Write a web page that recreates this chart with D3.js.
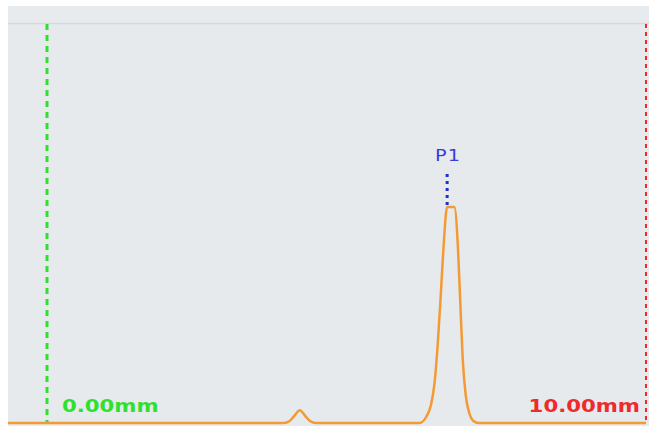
<!DOCTYPE html>
<html>
<head>
<meta charset="utf-8">
<script src="https://cdn.jsdelivr.net/npm/d3@7"></script>
<style>
  body { margin: 0; background: #fff; }
  svg { display: block; }
</style>
</head>
<body>
<div id="wrapper"></div>
<script>
// trace position (mm) and signal
const positions = [-0.65, 3.95, 4.05, 4.13, 4.22, 4.31, 4.39, 4.49, 6.22, 6.33, 6.41, 6.47, 6.52, 6.57, 6.62, 6.68, 6.8, 6.86, 6.9, 6.94, 6.99, 7.05, 7.12, 7.2, 10.0]
const signal    = [0, 0, 0.5, 1.8, 3.2, 1.8, 0.5, 0, 0, 1.5, 4.5, 10, 19, 31, 44, 54, 54, 44, 30, 16, 7, 2.5, 0.5, 0, 0]
const markers = [
  { label: "0.00mm", at: 0, color: "#2fe02f" },
  { label: "10.00mm", at: 10, color: "#ee2a2a" }
]
const peaks = [{ label: "P1", at: 6.68, value: 54 }]

const points = positions.map((p, i) => ({ x: p, y: signal[i] }))

const dimensions = { width: 649, height: 428 }
const panel = { left: 8, top: 6, right: 649, bottom: 426 }

const svg = d3.select("#wrapper").append("svg")
  .attr("width", dimensions.width)
  .attr("height", dimensions.height)

const xScale = d3.scaleLinear().domain([0, 10]).range([47, 646])
const yScale = d3.scaleLinear().domain([0, 100]).range([423, 23])

// panel background
svg.append("rect")
  .attr("x", panel.left).attr("y", panel.top)
  .attr("width", panel.right - panel.left).attr("height", panel.bottom - panel.top)
  .attr("fill", "#e6eaed")
svg.append("rect")
  .attr("x", panel.left).attr("y", panel.top)
  .attr("width", panel.right - panel.left).attr("height", 17)
  .attr("fill", "#e8ebee")
svg.append("line")
  .attr("x1", panel.left).attr("x2", panel.right)
  .attr("y1", 23.5).attr("y2", 23.5)
  .attr("stroke", "#d6dadd").attr("stroke-width", 1.5)

// start / end markers
svg.selectAll(".marker")
  .data(markers)
  .enter().append("line")
    .attr("class", "marker")
    .attr("x1", d => xScale(d.at)).attr("x2", d => xScale(d.at))
    .attr("y1", 24).attr("y2", 424)
    .attr("stroke", d => d.color)
    .attr("stroke-width", (d, i) => i === 0 ? 3 : 2)
    .attr("stroke-dasharray", (d, i) => i === 0 ? "6 5" : "4 4")

// trace
const line = d3.line()
  .x(d => xScale(d.x))
  .y(d => yScale(d.y))
  .curve(d3.curveMonotoneX)

svg.append("path")
  .datum(points)
  .attr("d", line)
  .attr("fill", "none")
  .attr("stroke", "#f39a35")
  .attr("stroke-width", 2.5)
  .attr("stroke-linejoin", "round")

// peak labels
peaks.forEach(p => {
  svg.append("line")
    .attr("x1", xScale(p.at)).attr("x2", xScale(p.at))
    .attr("y1", 174).attr("y2", yScale(p.value))
    .attr("stroke", "#1f2fcc")
    .attr("stroke-width", 3)
    .attr("stroke-dasharray", "3 4")
  svg.append("text")
    .attr("transform", `translate(${xScale(p.at) + 1},161) scale(1.2,1)`)
    .attr("text-anchor", "middle")
    .attr("font-family", "DejaVu Sans, Verdana, sans-serif")
    .attr("font-size", 16)
    .attr("letter-spacing", 1)
    .attr("fill", "#3340d8")
    .text(p.label)
})

// marker labels
svg.selectAll(".marker-label")
  .data(markers)
  .enter().append("text")
    .attr("class", "marker-label")
    .attr("transform", (d, i) => `translate(${i === 0 ? xScale(d.at) + 15 : xScale(d.at) - 6},412) scale(1.18,1)`)
    .attr("text-anchor", (d, i) => i === 0 ? "start" : "end")
    .attr("font-family", "DejaVu Sans, Verdana, sans-serif")
    .attr("font-weight", "bold")
    .attr("font-size", 18)
    .attr("fill", d => d.color)
    .text(d => d.label)
</script>
</body>
</html>
